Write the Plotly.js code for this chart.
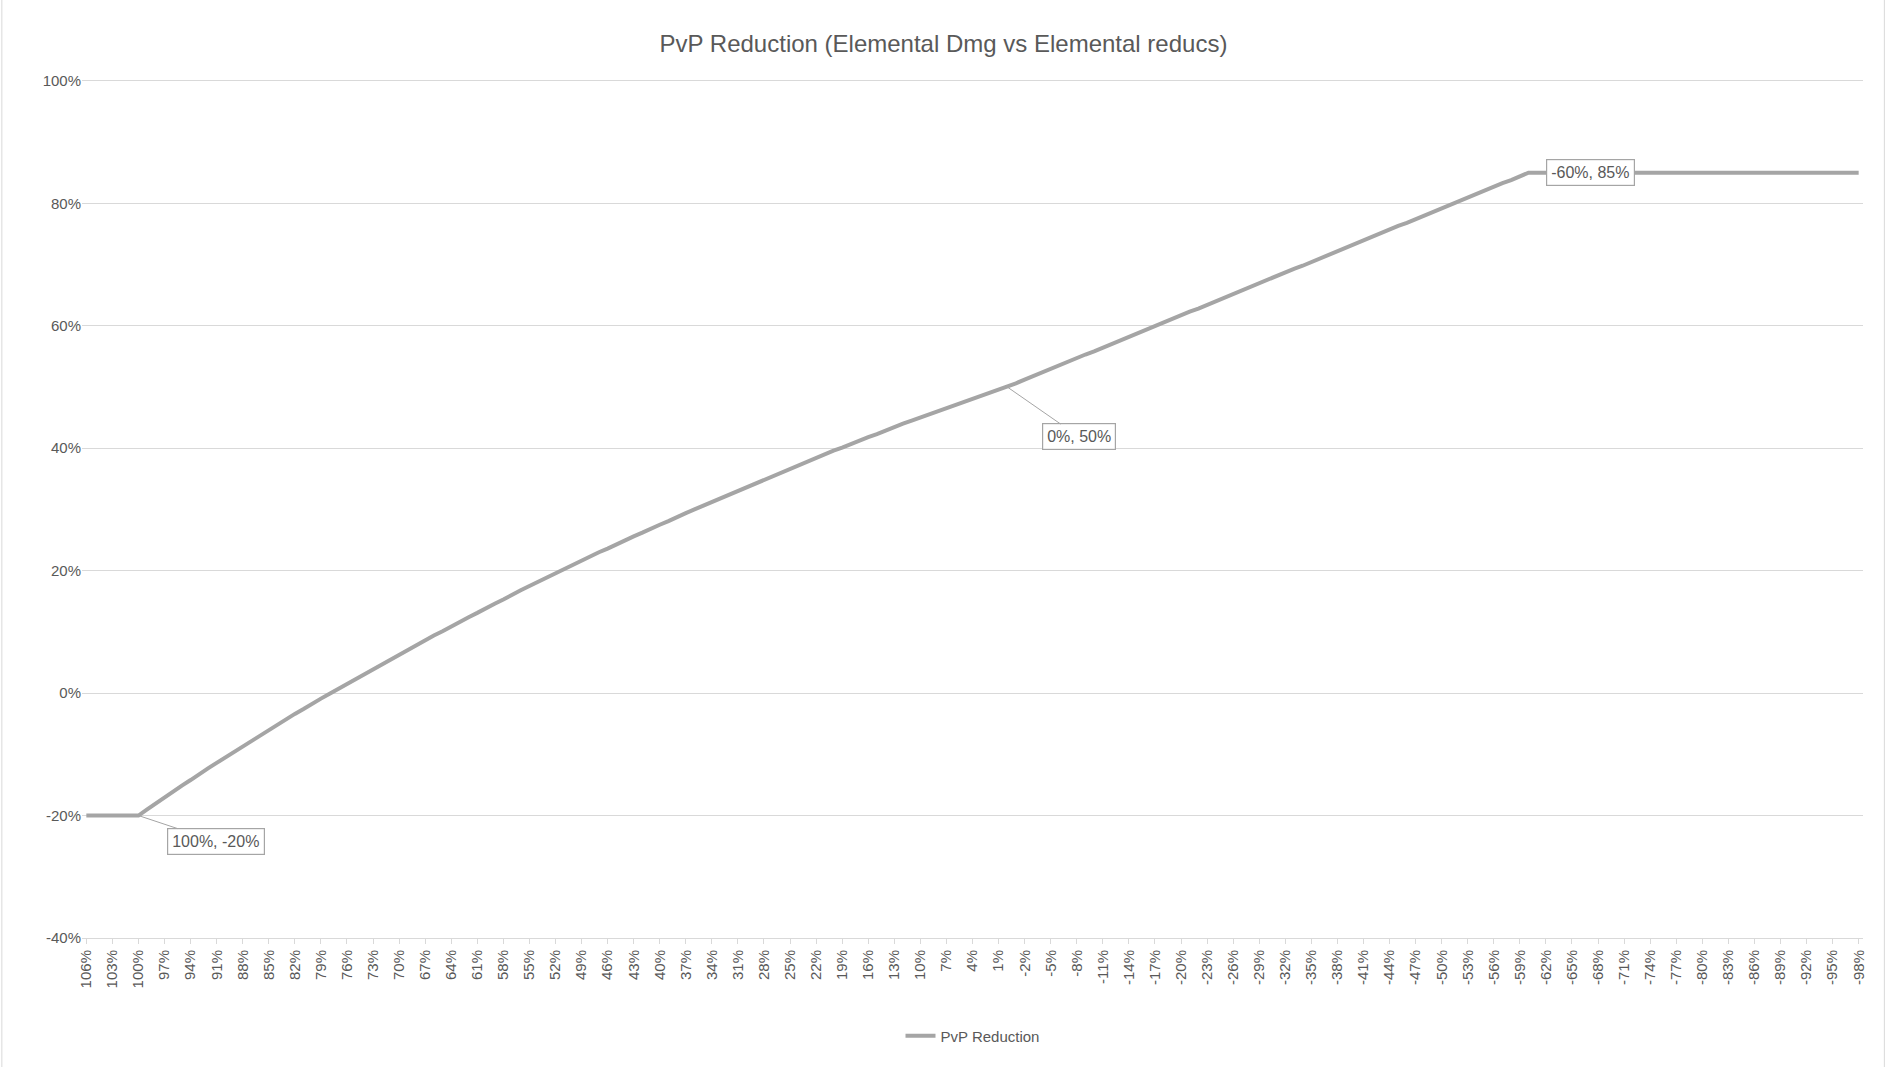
<!DOCTYPE html>
<html>
<head>
<meta charset="utf-8">
<script src="https://cdn.plot.ly/plotly-3.0.1.min.js"></script>
<style>html,body{margin:0;padding:0;background:#fff;}#chart{width:1887px;height:1067px;}</style>
</head>
<body>
<div id="chart"></div>
<script>
// elemental dmg steps, 106% down to -98%
var firstStep = 106;
var lastStep = -98;

// PvP reduction (%), one per step
var reduction = [
  -20, -20, -20, -20, -20, -20, -20,
  -19.0, -18.0, -17.0, -16.1, -15.1, -14.2, -13.2, -12.3, -11.4, -10.5,
  -9.6, -8.7, -7.8, -6.9, -6.0, -5.2, -4.3, -3.4, -2.6, -1.7, -0.9,
  -0.1, 0.7, 1.5, 2.3, 3.1, 3.9, 4.7, 5.5, 6.3, 7.1, 7.8, 8.6, 9.4, 10.1,
  10.9, 11.6, 12.4, 13.1, 13.9, 14.6, 15.3, 16.1, 16.8, 17.5, 18.2, 18.9, 19.6,
  20.3, 21.0, 21.6, 22.3, 23.0, 23.6, 24.3, 24.9, 25.6, 26.2, 26.9, 27.5,
  28.1, 28.8, 29.4, 30.0, 30.6, 31.2, 31.9, 32.5, 33.1, 33.7, 34.3, 34.9,
  35.5, 36.1, 36.7, 37.2, 37.8, 38.4, 39.0, 39.6, 40.1,
  40.7, 41.2, 41.8, 42.3, 42.9, 43.4, 44.0, 44.5, 45.0, 45.6, 46.1, 46.6,
  47.1, 47.6, 48.1, 48.6, 49.0, 49.5, 50.0,
  50.6, 51.2, 51.8, 52.3, 52.9, 53.5, 54.1, 54.7, 55.3, 55.8, 56.4, 57.0,
  57.6, 58.2, 58.8, 59.3, 59.9, 60.5, 61.1, 61.7, 62.3, 62.8, 63.4, 64.0,
  64.6, 65.2, 65.8, 66.3, 66.9, 67.5, 68.1, 68.7, 69.3, 69.8, 70.4, 71.0,
  71.6, 72.2, 72.8, 73.3, 73.9, 74.5, 75.1, 75.7, 76.3, 76.8, 77.4, 78.0,
  78.6, 79.2, 79.8, 80.3, 80.9, 81.5, 82.1, 82.7, 83.3, 83.8, 84.4, 85.0,
  85, 85, 85, 85, 85, 85, 85, 85, 85, 85, 85, 85, 85, 85, 85, 85, 85, 85, 85,
  85, 85, 85, 85, 85, 85, 85, 85, 85, 85, 85, 85, 85, 85, 85, 85, 85, 85, 85
];

var yTicks = [-40, -20, 0, 20, 40, 60, 80, 100];
var yTickText = ['-40%', '-20%', '0%', '20%', '40%', '60%', '80%', '100%'];

var categories = [];
for (var v = firstStep; v >= lastStep; v--) categories.push(v + '%');
var tickLabels = categories.filter(function (c, i) { return i % 3 === 0; });

// labelled points: [category, value, ax, ay, text]
var callouts = [
  ['100%', -20, 78, 26, '100%, -20%'],
  ['0%', 50, 72, 50, '0%, 50%'],
  ['-60%', 85, 62, 0, '-60%, 85%']
];

var font = 'Liberation Sans, Arial, sans-serif';

var trace = {
  x: categories,
  y: reduction,
  type: 'scatter',
  mode: 'lines',
  name: 'PvP Reduction',
  line: {color: '#a5a5a5', width: 4}
};

var layout = {
  width: 1887, height: 1067,
  margin: {l: 82, r: 24, t: 79, b: 129},
  paper_bgcolor: '#fff', plot_bgcolor: '#fff',
  font: {family: font, color: '#595959', size: 15},
  title: {text: 'PvP Reduction (Elemental Dmg vs Elemental reducs)', x: 0.5, y: 0.967,
          font: {family: font, size: 24, color: '#595959'}},
  xaxis: {
    type: 'category', tickvals: tickLabels, ticktext: tickLabels, tickangle: -90,
    showgrid: false, showline: true, linecolor: '#d9d9d9', ticks: 'outside',
    ticklen: 5, tickcolor: '#d9d9d9', tickfont: {size: 15}, range: [-0.5, categories.length - 0.5]
  },
  yaxis: {
    range: [-40, 100.3], tickvals: yTicks, ticktext: yTickText, showgrid: true, gridcolor: '#d9d9d9',
    gridwidth: 1.2, zeroline: false, showline: false, tickfont: {size: 15}
  },
  showlegend: true,
  legend: {orientation: 'h', x: 0.5, xanchor: 'center', y: -0.095, yanchor: 'top', font: {size: 15}},
  shapes: [{type: 'rect', xref: 'paper', yref: 'paper', x0: -0.045, x1: 1.012, y0: -0.155, y1: 1.105,
            line: {color: '#d9d9d9', width: 1}}],
  annotations: callouts.map(function (c) {
    return {x: c[0], y: c[1], ax: c[2], ay: c[3], text: c[4], showarrow: true,
            arrowhead: 0, arrowwidth: 1, arrowcolor: '#a5a5a5', bordercolor: '#a5a5a5',
            borderwidth: 1.2, borderpad: 4, bgcolor: '#fff', font: {size: 16, color: '#595959'}};
  })
};

Plotly.newPlot('chart', [trace], layout, {displayModeBar: false});
</script>
</body>
</html>
